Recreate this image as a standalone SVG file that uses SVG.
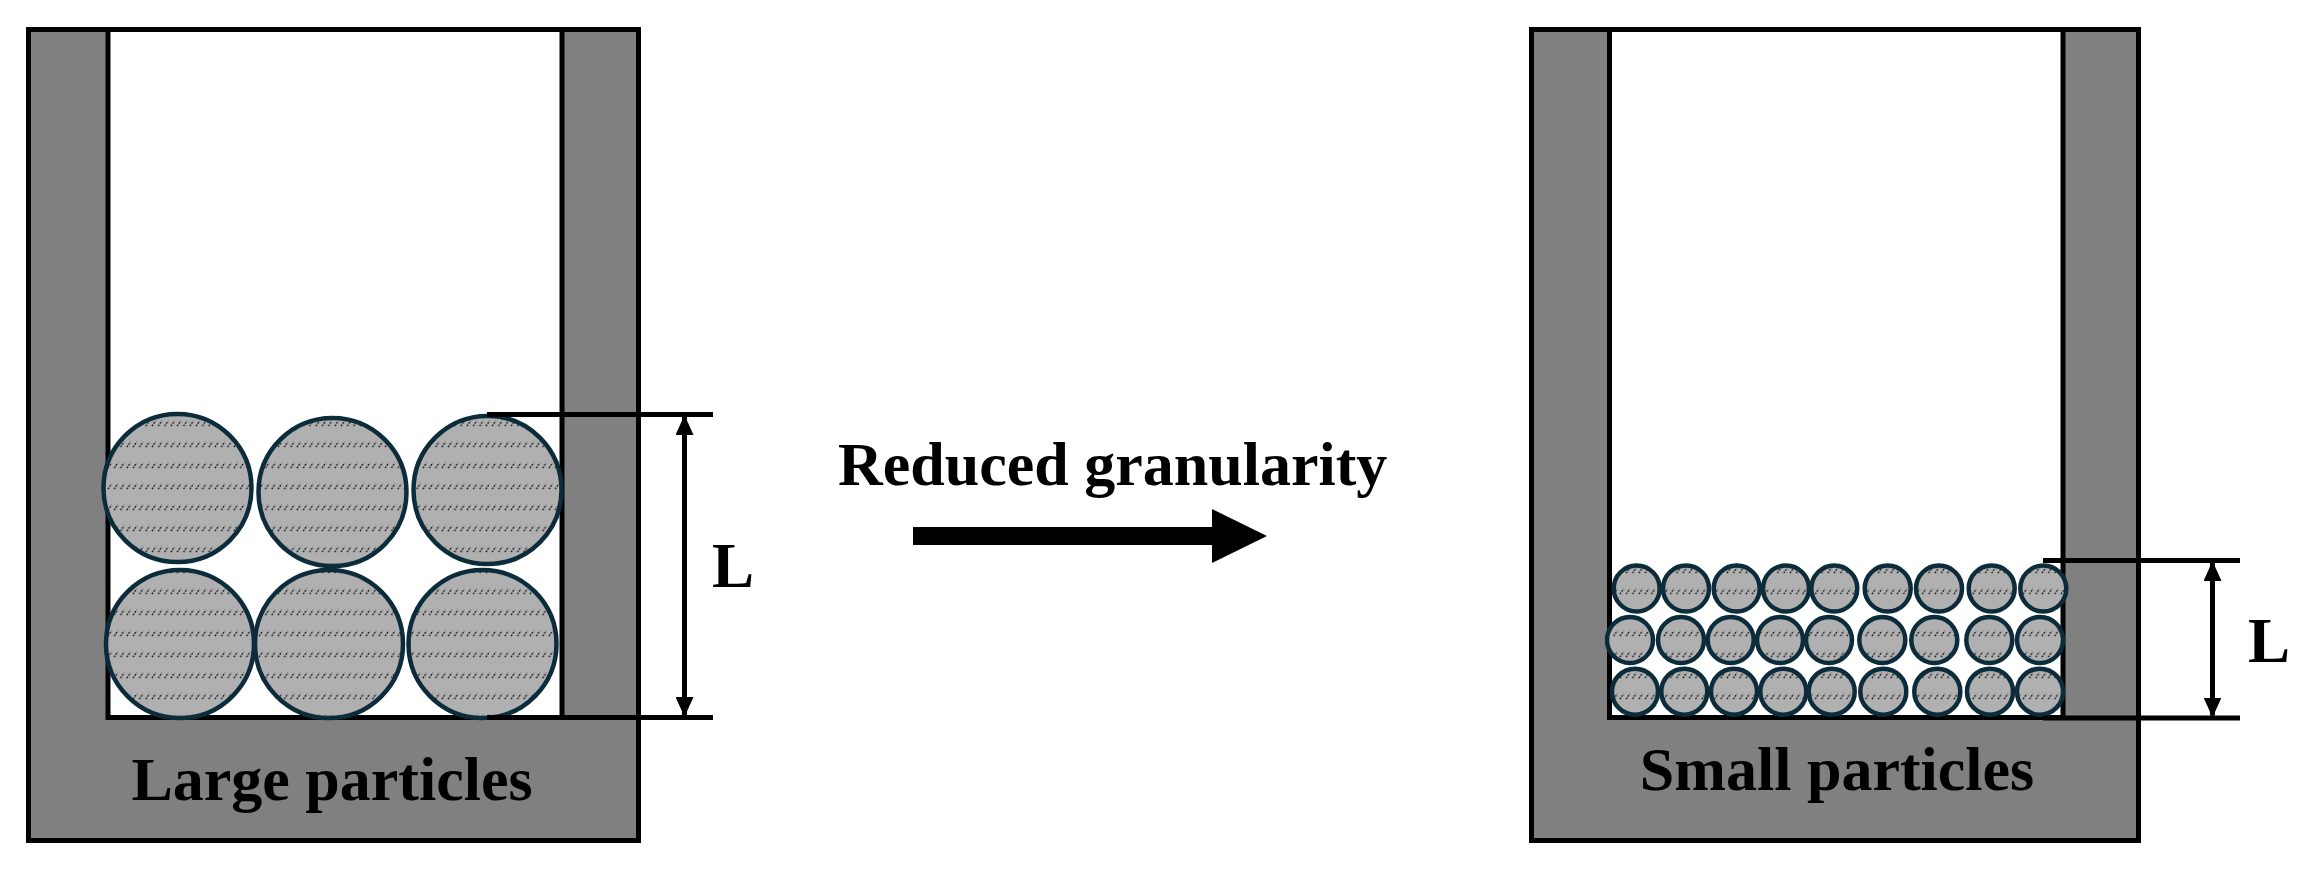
<svg xmlns="http://www.w3.org/2000/svg" width="2321" height="876" viewBox="0 0 2321 876">
  <style>
    .wall { fill: #808080; stroke: #000; stroke-width: 5; }
    .cavity { fill: #fff; stroke: #000; stroke-width: 5; }
    .pl { fill: url(#hatch); stroke: #0c2c3b; stroke-width: 4.5; }
    .ps { fill: url(#hatch); stroke: #0c2c3b; stroke-width: 4.5; }
    .dim { stroke: #000; stroke-width: 5; fill: none; }
    .lbl { font-family: "Liberation Serif", "Times New Roman", serif; font-weight: bold; fill: #000; }
  </style>
  <defs>
    <pattern id="hatch" patternUnits="userSpaceOnUse" x="0" y="0" width="6.3" height="21">
      <rect width="6.3" height="21" fill="#b0b0b0"/>
      <line x1="0.8" y1="6.2" x2="4.4" y2="0.8" stroke="#1a1a1a" stroke-width="1.3" stroke-dasharray="2 1"/>
    </pattern>
    <marker id="ah" viewBox="0 0 20 18" refX="18" refY="9" markerWidth="20" markerHeight="18" markerUnits="userSpaceOnUse" orient="auto-start-reverse">
      <path d="M0,0 L20,9 L0,18 Z" fill="#000"/>
    </marker>
  </defs>

  <g id="left-container">
    <rect class="wall" x="28.5" y="29.5" width="610" height="811"/>
    <rect class="cavity" x="108" y="29.5" width="454" height="688"/>
    <text class="lbl" x="332" y="800" font-size="62" text-anchor="middle">Large particles</text>
  </g>

  <g id="large-particles">
    <circle class="pl" cx="177.5" cy="488" r="74"/>
    <circle class="pl" cx="332.5" cy="492" r="74"/>
    <circle class="pl" cx="487.5" cy="490" r="74"/>
    <circle class="pl" cx="180" cy="644" r="74"/>
    <circle class="pl" cx="329" cy="644" r="74"/>
    <circle class="pl" cx="482.5" cy="644" r="74"/>
  </g>

  <g id="right-container">
    <rect class="wall" x="1531.5" y="29.5" width="607" height="811"/>
    <rect class="cavity" x="1609.5" y="29.5" width="453.5" height="688"/>
    <text class="lbl" x="1837" y="790" font-size="62" text-anchor="middle">Small particles</text>
  </g>

  <g id="small-particles">
    <circle class="ps" cx="1636.7" cy="588.5" r="23"/>
    <circle class="ps" cx="1686" cy="588.5" r="23"/>
    <circle class="ps" cx="1736.7" cy="588.5" r="23"/>
    <circle class="ps" cx="1786" cy="588.5" r="23"/>
    <circle class="ps" cx="1834.3" cy="588.5" r="23"/>
    <circle class="ps" cx="1887.7" cy="588.5" r="23"/>
    <circle class="ps" cx="1939" cy="588.5" r="23"/>
    <circle class="ps" cx="1991.7" cy="588.5" r="23"/>
    <circle class="ps" cx="2043.3" cy="588.5" r="23"/>

    <circle class="ps" cx="1630" cy="640" r="23"/>
    <circle class="ps" cx="1681" cy="640" r="23"/>
    <circle class="ps" cx="1730.7" cy="640" r="23"/>
    <circle class="ps" cx="1780" cy="640" r="23"/>
    <circle class="ps" cx="1829" cy="640" r="23"/>
    <circle class="ps" cx="1882.3" cy="640" r="23"/>
    <circle class="ps" cx="1934.3" cy="640" r="23"/>
    <circle class="ps" cx="1989.3" cy="640" r="23"/>
    <circle class="ps" cx="2040" cy="640" r="23"/>

    <circle class="ps" cx="1635" cy="691.7" r="23"/>
    <circle class="ps" cx="1684.3" cy="691.7" r="23"/>
    <circle class="ps" cx="1734" cy="691.7" r="23"/>
    <circle class="ps" cx="1783.3" cy="691.7" r="23"/>
    <circle class="ps" cx="1831.7" cy="691.7" r="23"/>
    <circle class="ps" cx="1883.3" cy="691.7" r="23"/>
    <circle class="ps" cx="1937.3" cy="691.7" r="23"/>
    <circle class="ps" cx="1990" cy="691.7" r="23"/>
    <circle class="ps" cx="2040" cy="691.7" r="23"/>
  </g>

  <g id="left-dimension">
    <line class="dim" x1="487" y1="414.5" x2="713" y2="414.5"/>
    <line class="dim" x1="487" y1="717.5" x2="713" y2="717.5"/>
    <line class="dim" x1="684.5" y1="417" x2="684.5" y2="715" marker-start="url(#ah)" marker-end="url(#ah)"/>
    <text class="lbl" x="712" y="587" font-size="63">L</text>
  </g>

  <g id="right-dimension">
    <line class="dim" x1="2043" y1="560.5" x2="2240" y2="560.5"/>
    <line class="dim" x1="2043" y1="718" x2="2240" y2="718"/>
    <line class="dim" x1="2212.5" y1="563" x2="2212.5" y2="715.5" marker-start="url(#ah)" marker-end="url(#ah)"/>
    <text class="lbl" x="2248" y="662" font-size="63">L</text>
  </g>

  <g id="connectors">
    <text class="lbl" x="838" y="485" font-size="62">Reduced granularity</text>
    <rect x="913" y="527" width="300" height="18" fill="#000"/>
    <polygon points="1212,509 1267,536 1212,563" fill="#000"/>
  </g>
</svg>
